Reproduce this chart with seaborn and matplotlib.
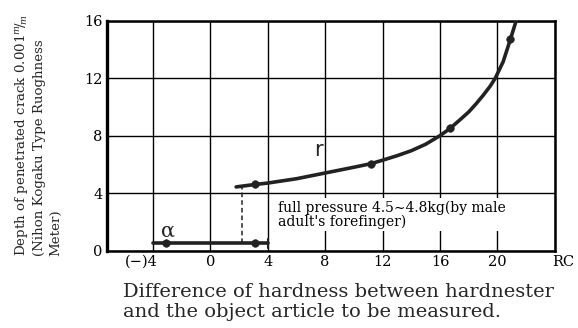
import matplotlib
matplotlib.use("Agg")
import matplotlib.pyplot as plt
import matplotlib.transforms as mtransforms
import seaborn as sns
import pandas as pd

# values
r_x = [1.8, 3.1, 4, 5, 6, 7, 8, 9, 10, 11.2, 12, 13, 14, 15, 16, 16.7,
       17.5, 18, 18.5, 19, 19.5, 19.85, 20.4, 20.9, 21.4, 21.5]
r_y = [4.43, 4.6, 4.7, 4.85, 5.0, 5.2, 5.4, 5.6, 5.8, 6.05, 6.29, 6.6, 6.95, 7.4, 8.0, 8.5,
       9.2, 9.65, 10.2, 10.8, 11.45, 12.0, 13.15, 14.7, 16.3, 16.6]
r_mark_x = [3.1, 11.2, 16.7, 20.9]
r_mark_y = [4.6, 6.05, 8.5, 14.7]

a_x = [-4, 4]
a_y = [0.5, 0.5]
a_mark_x = [-3.1, 3.1]
a_mark_y = [0.5, 0.5]

dash_x = [2.2, 2.2]
dash_y = [0.5, 4.43]

x_ticks = [-4, 0, 4, 8, 12, 16, 20, 24]
x_labels = ["(\u2212)4", "0", "4", "8", "12", "16", "20", "RC"]
y_ticks = [0, 4, 8, 12, 16]

note = "full pressure 4.5\u223c4.8kg(by male\nadult's forefinger)"

sns.set_theme(style="white")
plt.rcParams["font.family"] = ["DejaVu Serif", "Liberation Serif"]
plt.rcParams["mathtext.fontset"] = "dejavuserif"

fig = plt.figure(figsize=(5.78, 3.28), dpi=100)
ax = fig.add_axes([0.185, 0.236, 0.775, 0.701])

ink = "#222222"
r_df = pd.DataFrame({"x": r_x, "y": r_y})
a_df = pd.DataFrame({"x": a_x, "y": a_y})
sns.lineplot(data=r_df, x="x", y="y", sort=False, estimator=None,
             color=ink, lw=2.6, ax=ax, zorder=4)
sns.scatterplot(x=r_mark_x, y=r_mark_y, color=ink, s=30, ax=ax, zorder=5,
                edgecolor=ink)
sns.lineplot(data=a_df, x="x", y="y", sort=False, estimator=None,
             color=ink, lw=2.6, ax=ax, zorder=4)
sns.scatterplot(x=a_mark_x, y=a_mark_y, color=ink, s=30, ax=ax, zorder=5,
                edgecolor=ink)
ax.plot(dash_x, dash_y, color=ink, lw=1.1, ls=(0, (3, 2)), zorder=3)
ax.plot([4, 4], [0.2, 0.8], color=ink, lw=1.5, zorder=4)

ax.text(-3.4, 0.7, "\u03b1", fontsize=15, color=ink, ha="left", va="bottom")
ax.text(7.2, 6.3, "r", fontsize=15, color=ink, ha="left", va="bottom",
        family="DejaVu Sans")
ax.text(4.7, 3.5, note, fontsize=10, color="black", ha="left", va="top",
        linespacing=1.0, zorder=3,
        bbox=dict(facecolor="white", edgecolor="none", pad=1.5))

ax.set_xlim(-7.2, 24)
ax.set_ylim(0, 16)
ax.set_xticks(x_ticks)
ax.set_xticklabels(x_labels)
ax.set_yticks(y_ticks)
ax.grid(True, color="black", lw=1.0)
ax.set_axisbelow(True)
for s in ax.spines.values():
    s.set_color("black")
    s.set_linewidth(1.8)
ax.spines["left"].set_linewidth(2.4)
ax.tick_params(axis="both", length=0, labelsize=10.5, colors="black", pad=3)

# (-)4 sits with its digit under the grid line, RC sits just past the edge
labs = ax.get_xticklabels()
labs[0].set_horizontalalignment("right")
labs[0].set_transform(labs[0].get_transform() +
                      mtransforms.ScaledTranslation(5 / 100, 0, fig.dpi_scale_trans))
labs[-1].set_transform(labs[-1].get_transform() +
                       mtransforms.ScaledTranslation(8 / 100, 0, fig.dpi_scale_trans))

ax.set_xlabel("")
ax.set_ylabel("")
fig.text(0.213, 0.022,
         "Difference of hardness between hardnester\nand the object article to be measured.",
         fontsize=14, ha="left", va="bottom", linespacing=1.15)
fig.text(0.022, 0.22,
         "Depth of penetrated crack 0.001$^{m}\\!/\\!_{m}$\n(Nihon Kogaku Type Ruoghness\nMeter)",
         fontsize=9.6, rotation=90, ha="left", va="bottom", multialignment="left",
         linespacing=1.35)

fig.savefig("out.png", dpi=100)
